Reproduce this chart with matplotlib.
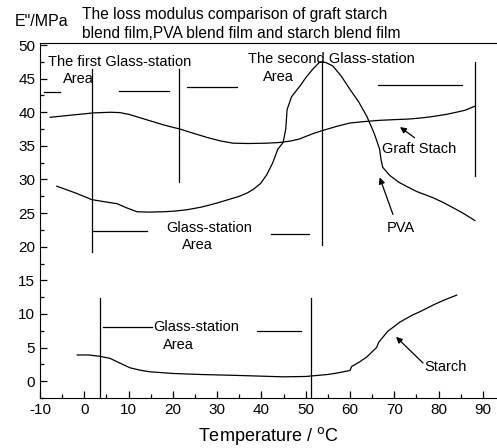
import matplotlib.pyplot as plt
from matplotlib.ticker import MultipleLocator

plt.rcParams["font.family"] = ["Liberation Sans", "DejaVu Sans"]
plt.rcParams["axes.unicode_minus"] = False

# values
graft_t = [-7.7, -4, -1, 2, 5.8, 8, 10, 12.5, 15, 18, 21.6, 25, 28, 31, 33.6, 37, 41.2, 44, 46.4,
           48.5, 50, 52, 53.9, 57, 60, 63, 66.7, 70, 73.5, 76, 78, 80, 81.9, 84, 86, 88.2]
graft_e = [39.25, 39.5, 39.7, 39.9, 40.0, 39.95, 39.7, 39.2, 38.7, 38.1, 37.5, 36.8, 36.2, 35.7, 35.4,
           35.35, 35.4, 35.5, 35.7, 36.0, 36.4, 36.9, 37.3, 37.9, 38.4, 38.6, 38.8, 38.9, 39.0, 39.15,
           39.3, 39.5, 39.7, 40.0, 40.3, 40.9]

pva_t = [-6.2, -2, 1.7, 4.5, 7.4, 9.5, 11.9, 14.5, 17.8, 20.5, 23.2, 26.5, 30, 33, 35, 36.8, 38.1, 39.8,
         41.2, 42.5, 43.7, 44.9, 45.5, 45.8, 46.8, 48.7, 50.2, 51.6, 53.2, 54.5, 56.1, 58, 60, 62, 63.8,
         65.5, 66.7, 67.0, 67.4, 69, 71, 73, 75.1, 78.7, 81, 83, 85.5, 88.2]
pva_e = [29.0, 28.0, 27.0, 26.7, 26.4, 25.8, 25.2, 25.15, 25.2, 25.3, 25.5, 25.9, 26.5, 27.1, 27.5,
         28.0, 28.5, 29.4, 30.7, 32.4, 34.5, 35.5, 37.5, 40.4, 42.3, 43.9, 45.3, 46.4, 47.5, 47.4, 46.9,
         45.4, 43.4, 41.5, 39.4, 36.8, 34.5, 33.0, 31.8, 30.6, 29.6, 28.9, 28.2, 27.3, 26.6, 25.9, 25.0,
         23.9]

starch_t = [-1.6, 1, 3.5, 5.8, 8, 10.3, 12.5, 14.8, 20, 26.1, 35, 44.9, 50, 52.5, 55, 57, 60, 60.4,
            62, 63.8, 65.2, 66.0, 66.5, 68.5, 71.3, 74, 76, 78.7, 81, 84.1]
starch_e = [3.9, 3.9, 3.7, 3.4, 2.7, 2.0, 1.65, 1.4, 1.15, 1.0, 0.85, 0.65, 0.7, 0.85, 1.0, 1.2, 1.6,
            2.2, 2.8, 3.6, 4.5, 5.0, 5.8, 7.4, 8.8, 9.8, 10.4, 11.3, 12.0, 12.8]

# vertical separators: (x, y_bottom, y_top)
vlines = [(1.7, 19.2, 46.4), (21.4, 29.7, 46.4), (53.7, 20.3, 47.5), (88.2, 30.5, 47.5),
          (3.5, -2.5, 12.4), (51.2, -2.5, 12.4)]
# horizontal dashes: (y, x_start, x_end)
hlines = [(43.0, -9.1, -5.5), (43.1, 7.8, 19.1), (43.7, 23.2, 34.5), (44.0, 66.3, 85.3),
          (22.4, 2.0, 14.2), (21.9, 42.1, 50.7), (8.1, 4.2, 15.3), (7.5, 39.0, 48.9)]

fig = plt.figure(figsize=(4.97, 4.48), dpi=100)
ax = fig.add_axes([40 / 497, 50 / 448, 1 - 40 / 497, 355 / 448])

for t, e in [(graft_t, graft_e), (pva_t, pva_e), (starch_t, starch_e)]:
    ax.plot(t, e, color="black", lw=0.9)

for x, y0, y1 in vlines:
    ax.plot([x, x], [y0, y1], color="black", lw=0.9)
for y, x0, x1 in hlines:
    ax.plot([x0, x1], [y, y], color="black", lw=0.9)

fs = 10.5
ax.text(-8.2, 47.5, "The first Glass-station", fontsize=fs, va="center")
ax.text(-4.8, 44.9, "Area", fontsize=fs, va="center")
ax.text(37.0, 47.9, "The second Glass-station", fontsize=fs, va="center")
ax.text(40.3, 45.2, "Area", fontsize=fs, va="center")
ax.text(18.6, 22.8, "Glass-station", fontsize=fs, va="center")
ax.text(22.0, 20.3, "Area", fontsize=fs, va="center")
ax.text(15.5, 8.1, "Glass-station", fontsize=fs, va="center")
ax.text(17.8, 5.4, "Area", fontsize=fs, va="center")

arrow = dict(arrowstyle="-|>", color="black", lw=0.9, mutation_scale=9, shrinkA=0, shrinkB=0)
ax.annotate("", xy=(71.3, 37.8), xytext=(74.6, 36.2), arrowprops=arrow)
ax.text(67.2, 34.5, "Graft Stach", fontsize=fs, va="center")
ax.annotate("", xy=(66.7, 30.3), xytext=(69.7, 24.8), arrowprops=arrow)
ax.text(68.3, 22.8, "PVA", fontsize=fs, va="center")
ax.annotate("", xy=(70.4, 6.6), xytext=(76.5, 2.7), arrowprops=arrow)
ax.text(76.7, 2.1, "Starch", fontsize=fs, va="center")

ax.set_xlim(-10, 93.2)
ax.set_ylim(-2.5, 50.3)
ax.xaxis.set_major_locator(MultipleLocator(10))
ax.xaxis.set_minor_locator(MultipleLocator(5))
ax.yaxis.set_major_locator(MultipleLocator(5))
ax.yaxis.set_minor_locator(MultipleLocator(2.5))
ax.set_yticks(range(0, 51, 5))
ax.tick_params(which="both", direction="in", labelsize=11, width=0.9)
ax.tick_params(which="major", length=5)
ax.tick_params(which="minor", length=3)
ax.spines["right"].set_visible(False)
ax.set_xlabel("Temperature / $^{\\mathrm{o}}$C", fontsize=13, labelpad=6)

fig.text(15 / 497, 1 - 22 / 448, 'E"/MPa', fontsize=11.5, va="center")
fig.text(82 / 497, 1 - 15 / 448, "The loss modulus comparison of graft starch", fontsize=11.2, va="center")
fig.text(82 / 497, 1 - 33 / 448, "blend film,PVA blend film and starch blend film", fontsize=11.2, va="center")

fig.savefig("out.png", dpi=100)
